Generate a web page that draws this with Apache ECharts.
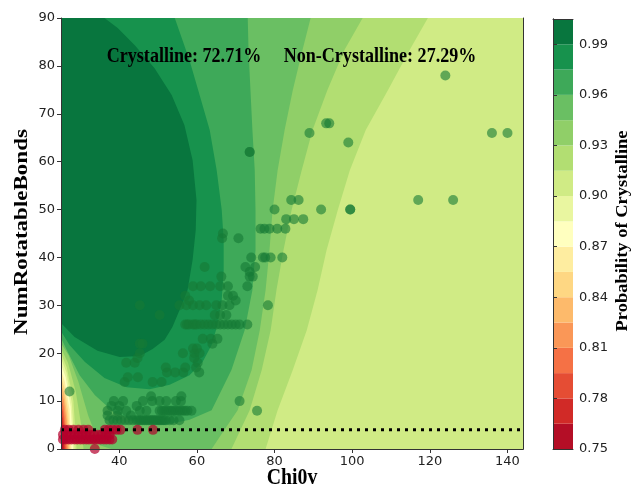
<!DOCTYPE html>
<html>
<head>
<meta charset="utf-8">
<script src="https://cdn.jsdelivr.net/npm/echarts@6.0.0/dist/echarts.min.js"></script>
<style>
  html, body { margin: 0; background: #fff; }
  #main { width: 632px; height: 489px; }
</style>
</head>
<body>
<div id="main"></div>
<script>
// contour levels and band colours (RdYlGn, 17 bands)
const levels = [0.75, 0.765, 0.78, 0.795, 0.81, 0.825, 0.84, 0.855, 0.87, 0.885, 0.90, 0.915, 0.93, 0.945, 0.96, 0.975, 0.99, 1.005];
const bandColors = ['#b40e26', '#d12a27', '#e54d34', '#f57145', '#fa9757', '#fdba6b', '#fed783', '#feeda0', '#ffffbf',
  '#e9f6a0', '#d0eb85', '#b2de72', '#90cf68', '#6abf63', '#3ea959', '#17924d', '#08763e'];
const cbTicks = [0.75, 0.78, 0.81, 0.84, 0.87, 0.90, 0.93, 0.96, 0.99];
const xTicks = [40, 60, 80, 100, 120, 140];

// contour lines (Chi0v, NumRotatableBonds)
const c915 = [[25, 20], [26.5, 17], [28.2, 10], [29, 0], [29.5, -3], [77, -3], [77.7, 0], [80.8, 8.1], [84.7, 16.5], [88.3, 24.8],
  [91.1, 33.2], [93.4, 41.5], [96.3, 49.9], [99.4, 58.2], [103.5, 66.6], [109.2, 74.9], [114.8, 83.3], [119.5, 90]];
const c93 = [[25, 21], [26.8, 18], [28.8, 12], [30.2, 5], [30.8, 0], [31, -3], [68, -3], [68.9, 0], [73.6, 8.1], [76.7, 16.5],
  [79.0, 24.8], [80.5, 33.2], [82.3, 41.5], [84.4, 49.9], [87.0, 58.2], [89.8, 66.6], [93.6, 74.9], [98.0, 83.3], [102.7, 90]];
const c945 = [[25, 22.1], [27, 19.5], [29.5, 14], [32, 7], [35, 0.8], [42.7, -1.3], [53, -1.5], [60.7, -1], [63.8, 0], [67.1, 4.0],
  [70.5, 8.1], [74.1, 16.5], [76.2, 24.8], [77.7, 33.2], [78.7, 41.5], [79.5, 49.9], [80.8, 58.2], [82.6, 66.6], [84.7, 74.9],
  [87.2, 83.3], [89.3, 90]];
const c96 = [[25, 23.2], [26.7, 20.3], [29.8, 15.4], [33.7, 11.3], [38.8, 7.5], [45.3, 5.6], [51.7, 5.0], [58.1, 6.1], [63.8, 8.1],
  [68.9, 16.5], [72.3, 24.8], [74.3, 33.2], [75.1, 41.5], [75.1, 49.9], [74.9, 58.2], [74.3, 66.6], [73.8, 74.9], [73.3, 83.3], [73.1, 90]];
const c975 = [[25, 24.6], [27.2, 21.7], [31.1, 18.2], [36.2, 14.8], [41.9, 12.9], [47.8, 12.5], [53, 13.4], [58.1, 15.4], [61.5, 18.2],
  [63.8, 21.7], [65.3, 25.9], [66.4, 31.1], [66.9, 37.4], [66.9, 43.6], [66.4, 49.9], [65.1, 58.2], [63.3, 66.6], [60.7, 73.9],
  [58.1, 81.2], [56.1, 85.8], [54.3, 90]];
const c99 = [[25, 26.3], [28.5, 23.4], [34.4, 20.5], [40.1, 19.2], [45.3, 19.4], [48.6, 20.9], [51.7, 22.8], [53.7, 25.5], [56.3, 30.5],
  [57.6, 33.2], [58.9, 39.5], [59.7, 45.7], [59.9, 52.0], [58.9, 60.3], [56.8, 67.6], [53.5, 73.9], [49.1, 79.5], [44.0, 84.3],
  [39.6, 87.9], [36.2, 90]];
// low corner (bottom left), region below each level
const c900 = [[25, 19], [26.4, 16], [27.8, 9.5], [28.5, 0]];
const c885 = [[25, 17.7], [26.2, 15], [27.5, 8.8], [28.1, 0]];
const c870 = [[25, 16.5], [26, 14], [27.2, 8.2], [27.7, 0]];
const c855 = [[25, 15], [25.9, 12.8], [26.9, 7.5], [27.4, 0]];
const c840 = [[25, 13.6], [25.8, 11.6], [26.6, 6.8], [27.1, 0]];
const c825 = [[25, 12.1], [25.7, 10.3], [26.4, 6], [26.8, 0]];
const c810 = [[25, 10.6], [25.6, 9], [26.1, 5.3], [26.5, 0]];
const c795 = [[25, 9.2], [25.5, 7.8], [25.9, 4.6], [26.2, 0]];
const c780 = [[25, 7.5], [25.4, 6.4], [25.7, 3.8], [25.9, 0]];
const c765 = [[25, 5.6], [25.3, 4.8], [25.5, 2.8], [25.6, 0]];

// samples
const crystalline = [
  [37.5, 6], [38.5, 6], [39.5, 6], [40.5, 6], [41.5, 6], [42.5, 6], [43.5, 6], [44.5, 6], [45, 6], [45.5, 6], [46, 6], [46.5, 6],
  [47, 6], [47.5, 6], [48, 6], [48.5, 6], [49, 6], [49.5, 6], [50, 6], [50.5, 6], [51, 6], [51.5, 6], [52, 6], [53, 6], [54, 6], [55.5, 6],
  [37, 7], [39.5, 7], [43, 7],
  [37, 8], [39.6, 8], [41.8, 8], [45.3, 8], [47, 8], [50.4, 8], [51, 8], [51.6, 8], [52.2, 8], [52.8, 8], [53.4, 8], [54, 8],
  [54.6, 8], [55.2, 8], [55.8, 8], [56.4, 8], [57, 8], [57.6, 8], [58.6, 8], [75.5, 8],
  [38, 9], [40, 9], [44.5, 9],
  [38.6, 10], [41, 10], [46.1, 10], [48.5, 10], [50.4, 10], [52.1, 10], [54.6, 10], [55.9, 10], [71, 10],
  [48.2, 11], [56, 11], [27.2, 12],
  [41.4, 14], [48.6, 14], [50.9, 14], [42.2, 15], [44.8, 15],
  [52.3, 16], [54.4, 16], [56.5, 16], [60.6, 16], [52, 17], [57, 17], [59.8, 17],
  [41.8, 18], [44, 18], [60.2, 18], [44.7, 19], [59.3, 19],
  [45.3, 20], [56.4, 20], [59.4, 20], [60.7, 20], [59, 21], [60, 21],
  [45.3, 22], [46, 22], [64, 22], [61.5, 23], [63.6, 23], [65.3, 23],
  [57, 26], [57.5, 26], [58, 26], [59, 26], [59.5, 26], [60, 26], [61, 26], [62, 26], [63, 26], [64, 26], [65, 26], [66, 26],
  [67, 26], [68, 26], [69, 26], [70, 26], [71, 26], [73, 26],
  [50.4, 28], [64.6, 28], [66, 28], [67.6, 28],
  [45.3, 30], [55.5, 30], [57.3, 30], [59, 30], [60.7, 30], [62.4, 30], [65, 30], [66.6, 30], [68.4, 30], [78.3, 30],
  [58, 31], [70, 31], [57, 32], [68, 32], [69.3, 32],
  [59, 34], [61, 34], [63.4, 34], [66, 34], [68, 34], [73, 34],
  [66.3, 36], [73.6, 36], [74.4, 36], [73.6, 37], [62, 38], [72.5, 38], [75, 38],
  [74, 40], [77, 40], [77.6, 40], [79, 40], [82, 40],
  [66.5, 44], [70.7, 44], [66.7, 45],
  [76.4, 46], [77.4, 46], [78.7, 46], [80.7, 46], [82.8, 46],
  [83, 48], [85, 48], [87.4, 48],
  [80, 50], [92, 50], [99.5, 50], [99.5, 50],
  [84.3, 52], [86.2, 52], [117, 52], [126, 52],
  [73.6, 62], [73.6, 62], [99, 64], [89, 66], [136, 66], [140, 66], [93.3, 68], [94.1, 68],
  [124, 78]
];
const nonCrystalline = [
  [33.7, 0],
  [25.5, 2], [26.2, 2], [27, 2], [27.7, 2], [28.5, 2], [29.2, 2], [30, 2], [30.7, 2], [31.5, 2], [32.2, 2], [33, 2], [33.7, 2],
  [34.5, 2], [35.2, 2], [36, 2], [36.7, 2], [37.5, 2], [38.2, 2],
  [25.5, 3], [26.5, 3], [27.5, 3], [28.5, 3], [29.5, 3], [30.5, 3], [31.5, 3], [32.5, 3], [33.5, 3], [34.5, 3], [35.5, 3],
  [36.5, 3], [37.5, 3],
  [26, 4], [27, 4], [28.2, 4], [29.5, 4], [30.8, 4], [32, 4], [36.3, 4], [37.3, 4], [38.3, 4], [39.3, 4], [40.3, 4],
  [44.7, 4], [48.7, 4]
];
const threshold = [[25, 4], [144, 4]];

const layers = [
  { band: 10, line: [], whole: true },
  { band: 11, line: c915 }, { band: 12, line: c93 }, { band: 13, line: c945 },
  { band: 14, line: c96 }, { band: 15, line: c975 }, { band: 16, line: c99 },
  { band: 9, line: c900, corner: true }, { band: 8, line: c885, corner: true }, { band: 7, line: c870, corner: true },
  { band: 6, line: c855, corner: true }, { band: 5, line: c840, corner: true }, { band: 4, line: c825, corner: true },
  { band: 3, line: c810, corner: true }, { band: 2, line: c795, corner: true }, { band: 1, line: c780, corner: true },
  { band: 0, line: c765, corner: true }
];

const contourItem = (params, api) => {
  const layer = layers[params.dataIndex];
  let ring;
  if (layer.whole) {
    ring = [[0, -10], [200, -10], [200, 100], [0, 100]];
  } else {
    const line = layer.line;
    const first = line[0];
    const last = line[line.length - 1];
    const edge = layer.corner ? -10 : 100;
    ring = line.concat([[last[0], edge], [0, edge], [0, first[1]]]);
  }
  return {
    type: 'polygon',
    shape: { points: ring.map(p => api.coord(p)) },
    style: { fill: bandColors[layer.band] }
  };
};

const colorbarItem = (params, api) => {
  const i = params.dataIndex;
  const p0 = api.coord([0, levels[i]]);
  const p1 = api.coord([1, levels[i + 1]]);
  return {
    type: 'rect',
    shape: { x: p0[0], y: p1[1], width: p1[0] - p0[0], height: p0[1] - p1[1] },
    style: { fill: bandColors[i] }
  };
};

const frame = { show: true, lineStyle: { color: '#333', width: 1 } };
const serif = "'Liberation Serif', 'Times New Roman', serif";
const sans = "'DejaVu Sans', sans-serif";
const lineOnly = (extra) => Object.assign({
  type: 'value', z: 10, axisLine: frame, axisTick: { show: false }, axisLabel: { show: false }, splitLine: { show: false }
}, extra);
// the figure is a bit narrower than tall, so text is squeezed sideways
const label = (text, size, x, y, turned) => ({
  type: 'text', x: x, y: y, z: 20,
  rotation: turned ? Math.PI / 2 : 0,
  scaleX: turned ? 1 : 0.86,
  scaleY: turned ? 0.86 : 1,
  style: { text: text, font: 'bold ' + size + 'px ' + serif, fill: '#000', align: 'center', verticalAlign: 'middle' }
});

const myChart = echarts.init(document.getElementById('main'));
const option = {
  animation: false,
  backgroundColor: '#fff',
  grid: [
    { left: 61, top: 18, width: 462, height: 431, outerBoundsMode: 'none', containLabel: false },
    { left: 553, top: 19, width: 20, height: 430, outerBoundsMode: 'none', containLabel: false }
  ],
  xAxis: [
    {
      type: 'value', gridIndex: 0, min: 25, max: 144, z: 10,
      axisLine: frame,
      axisTick: { show: true, length: 4, lineStyle: { color: '#333' }, customValues: xTicks },
      axisLabel: { fontSize: 13, color: '#222', fontFamily: sans, margin: 6, customValues: xTicks },
      splitLine: { show: false }
    },
    lineOnly({ gridIndex: 0, min: 25, max: 144, position: 'top' }),
    lineOnly({ gridIndex: 1, min: 0, max: 1, position: 'bottom' }),
    lineOnly({ gridIndex: 1, min: 0, max: 1, position: 'top' })
  ],
  yAxis: [
    {
      type: 'value', gridIndex: 0, min: 0, max: 90, interval: 10, z: 10,
      axisLine: frame,
      axisTick: { show: true, length: 4, lineStyle: { color: '#333' } },
      axisLabel: { fontSize: 13, color: '#222', fontFamily: sans, margin: 6 },
      splitLine: { show: false }
    },
    lineOnly({ gridIndex: 0, min: 0, max: 90, position: 'right' }),
    {
      type: 'value', gridIndex: 1, min: 0.75, max: 1.005, position: 'right', z: 10,
      axisLine: frame,
      axisTick: { show: true, length: 4, lineStyle: { color: '#333' }, customValues: cbTicks },
      axisLabel: { fontSize: 13, color: '#222', fontFamily: sans, margin: 6, customValues: cbTicks,
        formatter: v => v.toFixed(2) },
      splitLine: { show: false }
    },
    lineOnly({ gridIndex: 1, min: 0.75, max: 1.005, position: 'left' })
  ],
  graphic: [
    label('Crystalline: 72.71%', 21, 184, 56.5, false),
    label('Non-Crystalline: 27.29%', 21, 380, 56.5, false),
    label('Chi0v', 23, 292, 478, false),
    label('NumRotatableBonds', 23, 21.5, 232, true),
    label('Probability of Crystalline', 18.5, 622.5, 231, true)
  ],
  series: [
    {
      type: 'custom', xAxisIndex: 0, yAxisIndex: 0, clip: true, silent: true, z: 1,
      renderItem: contourItem,
      data: layers.map((l, i) => [i, 0])
    },
    {
      type: 'custom', xAxisIndex: 2, yAxisIndex: 2, silent: true, z: 1,
      renderItem: colorbarItem,
      data: bandColors.map((c, i) => [i, levels[i]])
    },
    {
      type: 'scatter', xAxisIndex: 0, yAxisIndex: 0, symbolSize: 10, z: 3,
      itemStyle: { color: '#157a35', opacity: 0.6 },
      data: crystalline
    },
    {
      type: 'scatter', xAxisIndex: 0, yAxisIndex: 0, symbolSize: 10, z: 4,
      itemStyle: { color: '#b4002c', opacity: 0.7 },
      data: nonCrystalline
    },
    {
      type: 'line', xAxisIndex: 0, yAxisIndex: 0, z: 5, silent: true, showSymbol: false,
      lineStyle: { color: '#000', width: 3, type: [3, 5] },
      data: threshold
    }
  ]
};
myChart.setOption(option);
window.addEventListener('resize', () => {
  myChart.resize();
});
</script>
</body>
</html>
